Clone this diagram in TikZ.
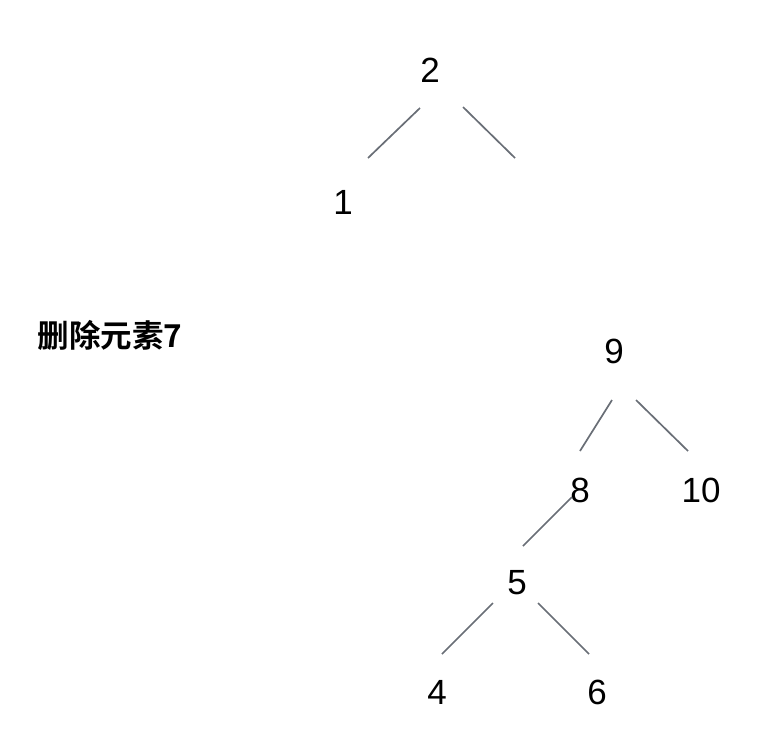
\documentclass[tikz,border=0pt]{standalone}
\usepackage{fontspec}
\setmainfont{Liberation Sans}
\newfontfamily\cjk{Noto Sans CJK SC}[BoldFont={* Bold}]
\definecolor{linegray}{RGB}{105,110,118}
\tikzset{
  num/.style={font=\fontsize{35}{40}\selectfont, inner sep=0pt},
  link/.style={draw=linegray, line width=1.7pt}
}

\begin{document}
\begin{tikzpicture}[x=1pt, y=-1pt]
\useasboundingbox (0,0) rectangle (763,732);

%first tree
\node[num] (2) at (430,70) {2};
\node[num] (1) at (343,202) {1};
\coordinate (r2) at (515,158);
\draw[link] ([shift={(-10,38)}]2.center) -- ([shift={(25,-44)}]1.center);
\draw[link] ([shift={(33,37)}]2.center) -- (r2);

%label
\node[font=\cjk\bfseries\fontsize{31.5}{36}\selectfont, inner sep=0pt] (del) at (110,335) {删除元素7};

%second tree
\node[num] (9) at (614,351) {9};
\node[num] (8) at (580,490) {8};
\node[num] (10) at (701,490) {10};
\node[num] (5) at (517,583) {5};
\node[num] (4) at (437,692) {4};
\node[num] (6) at (597,692) {6};
\draw[link] ([shift={(-2,49)}]9.center) -- ([shift={(0,-39)}]8.center);
\draw[link] ([shift={(22,49)}]9.center) -- ([shift={(-13,-39)}]10.center);
\draw[link] ([shift={(-8,7)}]8.center) -- ([shift={(6,-37)}]5.center);
\draw[link] ([shift={(-24,20)}]5.center) -- ([shift={(5,-38)}]4.center);
\draw[link] ([shift={(21,20)}]5.center) -- ([shift={(-8,-38)}]6.center);

\end{tikzpicture}
\end{document}
